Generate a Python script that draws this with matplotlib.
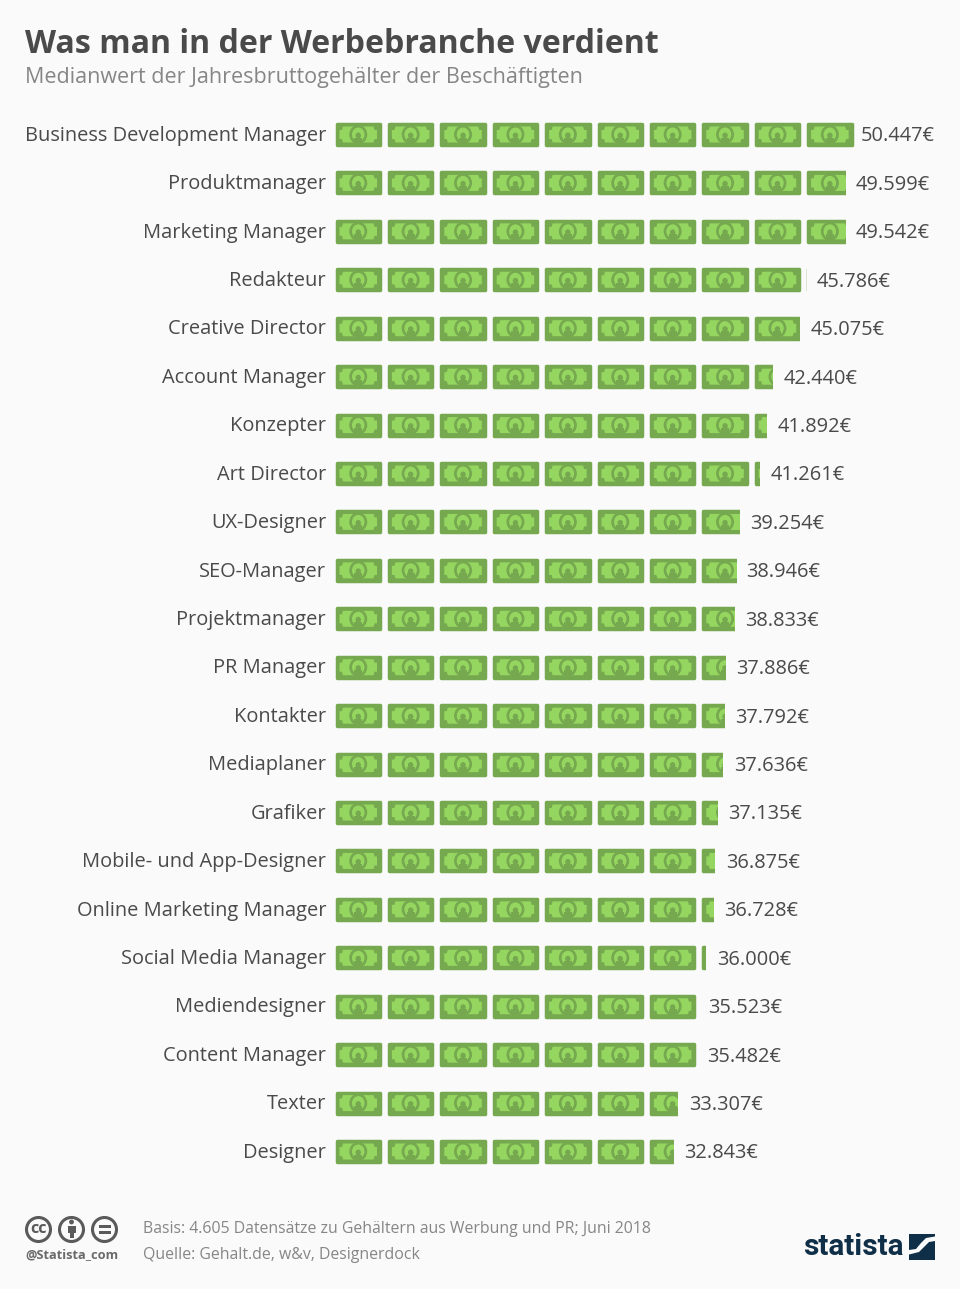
import matplotlib
matplotlib.use("Agg")
import matplotlib.pyplot as plt
from matplotlib.patches import Rectangle, FancyBboxPatch, Polygon, Circle, Ellipse

jobs = ["Business Development Manager", "Produktmanager", "Marketing Manager", "Redakteur",
        "Creative Director", "Account Manager", "Konzepter", "Art Director", "UX-Designer",
        "SEO-Manager", "Projektmanager", "PR Manager", "Kontakter", "Mediaplaner", "Grafiker",
        "Mobile- und App-Designer", "Online Marketing Manager", "Social Media Manager",
        "Mediendesigner", "Content Manager", "Texter", "Designer"]
salaries = [50447, 49599, 49542, 45786, 45075, 42440, 41892, 41261, 39254, 38946, 38833,
            37886, 37792, 37636, 37135, 36875, 36728, 36000, 35523, 35482, 33307, 32843]

# small layout corrections for the value labels, in px
label_nudge = [-5, -1, -1, -1, 0, 0, 0, 0, 0, -1, -1, 0, 0, 0, 0, 0, 0, 0, -4, -4, 0, 0]

W, H = 960, 1289
BG = "#fafafa"
TEXT = "#4a4a4a"
GREY = "#868686"
DARK = "#76a94f"
LIGHT = "#95d660"
FONT = "Open Sans"
PX_PER_EUR = 0.01031
BILL_EUR = 52.4 / PX_PER_EUR
BILL_W = 46.5 / PX_PER_EUR
BILL_H = 24 / 48.43

plt.rcParams["font.family"] = [FONT, "DejaVu Sans"]
fig = plt.figure(figsize=(W / 100, H / 100), dpi=100, facecolor=BG)

# overlay in pixel coords for title, footer, logo
bg = fig.add_axes([0, 0, 1, 1])
bg.set_xlim(0, W)
bg.set_ylim(H, 0)
bg.axis("off")

# bars axis: x in euro, y in rows
top = 134.5 - 48.43 / 2
bottom = top + 48.43 * len(jobs)
ax_w = W - 335
ax = fig.add_axes([335 / W, 1 - bottom / H, ax_w / W, (bottom - top) / H])
ax.set_xlim(0, ax_w / PX_PER_EUR)
ax.set_ylim(len(jobs) - 0.5, -0.5)
ax.axis("off")
ax.patch.set_alpha(0)


def draw_bill(x0, row, clip):
    w, h = BILL_W, BILL_H
    y0 = row - h / 2
    ux, uy = w / 46.5, h / 24
    parts = [
        FancyBboxPatch((x0 + 1.5 * ux, y0 + 1.5 * uy), w - 3 * ux, h - 3 * uy,
                       boxstyle="square,pad=0", fc=DARK, ec=DARK, lw=2.5, joinstyle="round"),
    ]
    # light inner note with notched corners
    m, n = 4.5, 3.5
    pts = [(m + n, 4), (w / ux - m - n, 4), (w / ux - m - n + 1, 4 + n), (w / ux - m, 4 + n),
           (w / ux - m, 20 - n), (w / ux - m - n + 1, 20 - n), (w / ux - m - n, 20),
           (m + n, 20), (m + n - 1, 20 - n), (m, 20 - n), (m, 4 + n), (m + n - 1, 4 + n)]
    parts.append(Polygon([(x0 + a * ux, y0 + b * uy) for a, b in pts], closed=True, fc=LIGHT, ec="none"))
    cx, cy = x0 + w / 2, row
    parts.append(Ellipse((cx, cy), 18 * ux, 19 * uy, fc=DARK, ec="none"))
    parts.append(Ellipse((cx, cy), 12.5 * ux, 14 * uy, fc=LIGHT, ec="none"))
    parts.append(Ellipse((cx, cy + 1 * uy), 5.5 * ux, 6 * uy, fc=DARK, ec="none"))
    parts.append(Rectangle((cx - 4 * ux, cy + 3 * uy), 8 * ux, 5 * uy, fc=DARK, ec="none"))
    for p in parts:
        ax.add_patch(p)
        p.set_clip_path(clip)


for i, (job, val) in enumerate(zip(jobs, salaries)):
    clip = Rectangle((0, i - 0.5), val, 1, transform=ax.transData)
    n = 0
    while n * BILL_EUR < val:
        draw_bill(n * BILL_EUR, i, clip)
        n += 1
    ax.annotate(job, (0, i), xytext=(-6.4, -0.9), textcoords="offset points",
                ha="right", va="center", fontsize=14.45, color=TEXT)
    label = f"{val:,}€".replace(",", ".")
    ax.annotate(label, (val, i), xytext=(7.7 + label_nudge[i] * 0.72, -1.4), textcoords="offset points",
                ha="left", va="center", fontsize=14.45, color=TEXT)

bg.text(25, 44.5, "Was man in der Werbebranche verdient", fontsize=23.15, fontweight="bold",
        color=TEXT, va="center", ha="left")
bg.text(25, 78, "Medianwert der Jahresbruttogehälter der Beschäftigten", fontsize=15.45,
        color=GREY, va="center", ha="left")
bg.text(143, 1229, "Basis: 4.605 Datensätze zu Gehältern aus Werbung und PR; Juni 2018",
        fontsize=11.47, color=GREY, va="center", ha="left")
bg.text(143, 1255, "Quelle: Gehalt.de, w&v, Designerdock", fontsize=11.47, color=GREY,
        va="center", ha="left")

# cc icons
ICON = "#5a5a5a"
for cx in (38.5, 71.5, 104.5):
    bg.add_patch(Circle((cx, 1229.5), 12, fc="none", ec=ICON, lw=2.2))
bg.text(38.5, 1229, "cc", fontsize=11.5, fontweight="bold", color=ICON, ha="center", va="center")
bg.add_patch(Circle((71.5, 1222), 2.4, fc=ICON, ec="none"))
bg.add_patch(Rectangle((67.5, 1225.5), 8, 7, fc=ICON, ec="none"))
bg.add_patch(Rectangle((69.5, 1231), 4, 7, fc=ICON, ec="none"))
bg.add_patch(Rectangle((98.5, 1225), 12, 2.8, fc=ICON, ec="none"))
bg.add_patch(Rectangle((98.5, 1231), 12, 2.8, fc=ICON, ec="none"))
bg.text(25.5, 1255, "@Statista_com", fontsize=9.2, fontweight="bold", color="#6a6a6a", va="center", ha="left")

# statista logo
NAVY = "#0f2f48"
bg.text(803, 1247, "statista", family=["Roboto", "DejaVu Sans"], fontsize=21.4,
        fontweight="bold", color=NAVY, va="center", ha="left")
bg.add_patch(Rectangle((909, 1233.5), 26, 26, fc=NAVY, ec="none"))
bg.add_patch(Polygon([(909, 1250), (916, 1249), (921, 1243), (926, 1238), (935, 1236.5), (935, 1241),
                      (929, 1242), (924, 1247), (919, 1252), (909, 1254.5)], closed=True, fc=BG, ec="none"))

fig.savefig("out.png", dpi=100, facecolor=BG)
